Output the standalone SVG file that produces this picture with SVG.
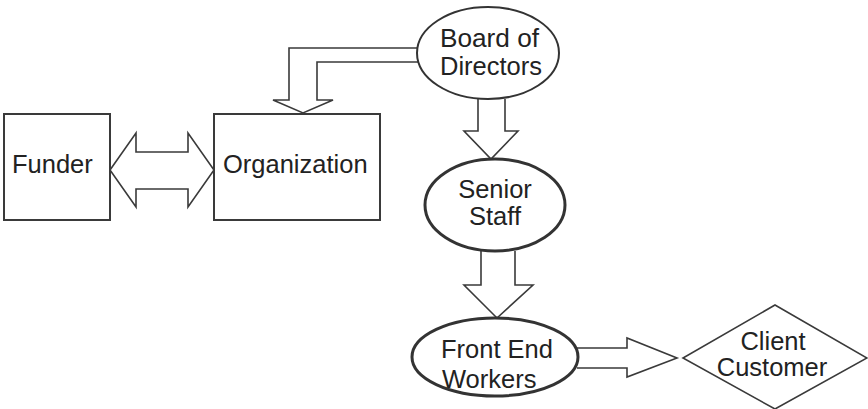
<svg xmlns="http://www.w3.org/2000/svg" width="868" height="409" viewBox="0 0 868 409">
<style>
.box{fill:#fff;stroke:#3a3a3a;stroke-width:2}
.ell{fill:#fff;stroke:#333;stroke-width:2}
.thick{stroke-width:3}
.arr{fill:#fff;stroke:#3a3a3a;stroke-width:1.6;stroke-linejoin:miter}
.t{font-family:"Liberation Sans",Arial,sans-serif;font-size:25.5px;fill:#222}
</style>
<rect width="868" height="409" fill="#fff"/>
<g id="connectors">
<polygon class="arr" points="110,170 136,133 136,152 188,152 188,133 214,170 188,207 188,189 136,189 136,207"/>
<polyline class="arr" points="418,48 289,48 289,100 273,100 303,113 333,100 317,100 317,62 419,62"/>
<polyline class="arr" points="478,99 478,131 464,131 491,159 518,131 505,131 505,99"/>
<polyline class="arr" points="481,251 481,285 464,285 497,318 533,285 515,285 515,251"/>
<polyline class="arr" points="577,348 627,348 627,338 677,358 627,377 627,368 577,368"/>
</g>
<g id="funder">
<rect class="box" x="4" y="114" width="106" height="106"/>
<text class="t" x="12" y="173">Funder</text>
</g>
<g id="organization">
<rect class="box" x="214" y="114" width="166" height="106"/>
<text class="t" x="223" y="173">Organization</text>
</g>
<g id="board">
<ellipse class="ell" cx="488" cy="53" rx="71" ry="46"/>
<text class="t" x="440" y="47" textLength="99" lengthAdjust="spacingAndGlyphs">Board of</text>
<text class="t" x="440" y="75" textLength="102" lengthAdjust="spacingAndGlyphs">Directors</text>
</g>
<g id="senior">
<ellipse class="ell thick" cx="495" cy="205" rx="70" ry="46"/>
<text class="t" x="495" y="198" text-anchor="middle">Senior</text>
<text class="t" x="495" y="225" text-anchor="middle">Staff</text>
</g>
<g id="front">
<ellipse class="ell thick" cx="495" cy="357" rx="83" ry="39"/>
<text class="t" x="441" y="358">Front End</text>
<text class="t" x="442" y="388">Workers</text>
</g>
<g id="client">
<polygon class="box" style="stroke-width:1.6" points="775,305 867,358 775,409 683,358"/>
<text class="t" x="773" y="350" text-anchor="middle">Client</text>
<text class="t" x="772" y="376" text-anchor="middle">Customer</text>
</g>
</svg>
